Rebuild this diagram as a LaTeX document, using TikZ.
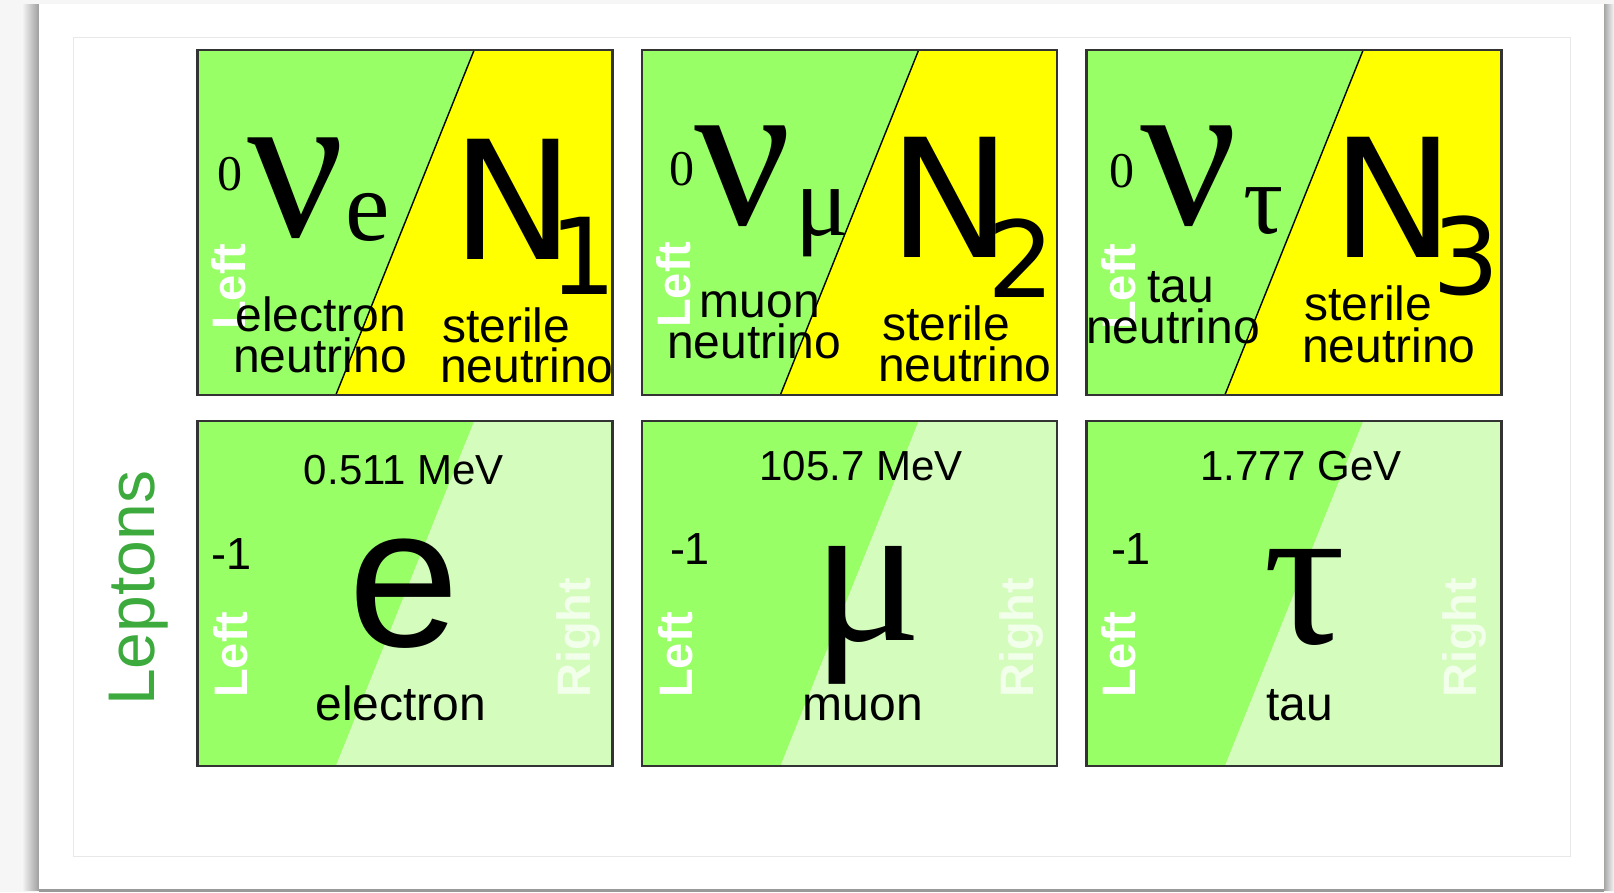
\documentclass[tikz,border=0pt]{standalone}
\usepackage{fontspec}
\setmainfont{Liberation Sans}
\newfontfamily\greekfont{Liberation Serif}
\newfontfamily\capsfont{DejaVu Sans}
\usetikzlibrary{positioning,calc}
\definecolor{leftgreen}{HTML}{99FF66}
\definecolor{steryellow}{HTML}{FFFF00}
\definecolor{rightgreen}{HTML}{D4FCBC}
\definecolor{rimgray}{HTML}{333333}
\definecolor{leptgreen}{HTML}{3DAA3D}
\definecolor{pagegray}{HTML}{F6F6F6}
\definecolor{rulegray}{HTML}{E8E8E8}
\definecolor{faintwhite}{HTML}{F2FFEA}
\newcommand{\fs}[1]{\fontsize{#1}{#1}\selectfont}

\begin{document}
\begin{tikzpicture}[x=1pt, y=-1pt,
  cell/.style     = {fill=leftgreen, minimum width=415pt, minimum height=345pt,
                     inner sep=0pt, outer sep=0pt},
  rim/.style      = {draw=rimgray, line width=2.4pt},
  split/.style    = {draw=black, line width=1.4pt},
  word/.style     = {anchor=base, inner sep=0pt, font=\fs{48}},
  hand/.style     = {rotate=90, anchor=base west, inner sep=0pt, text=white,
                     font=\bfseries\fs{47}},
  mass/.style     = {anchor=base, inner sep=0pt, font=\fs{42}},
  charge/.style   = {anchor=base, inner sep=0pt, font=\fs{45}},
  zero/.style     = {anchor=base, inner sep=0pt, font=\greekfont\fs{50}},
  greek/.style    = {anchor=base, inner sep=0pt, font=\greekfont\fs{215}},
  flav/.style     = {anchor=base, inner sep=0pt, font=\greekfont\fs{100}},
  heavy/.style    = {anchor=base, inner sep=0pt, font=\capsfont\fs{165}},
  heavyidx/.style = {anchor=base, inner sep=0pt, font=\capsfont\fs{106}},
  big/.style      = {anchor=base, inner sep=0pt, font=\fs{200}},
]
\useasboundingbox (0,0) rectangle (1614,892);

% --- the card ----------------------------------------------------------------------------------
\fill[pagegray] (0,0) rectangle (1614,892);
\shade[left color=pagegray, right color=black!38] (22,4) rectangle (39,890);
\shade[left color=black!35, right color=pagegray] (1604,4) rectangle (1614,890);
\fill[white] (39,4) rectangle (1604,889);
\fill[black!40] (39,889) rectangle (1604,892);
\draw[rulegray, line width=1pt] (73,37) rectangle (1570,856);

% --- six cells, two rows ------------------------------------------------------------------------
\node[cell] (nue) at (405,222.5) {};
\node[cell, right=29.5pt of nue] (numu) {};
\node[cell, right=29.5pt of numu] (nutau) {};
\node[cell, below=26pt of nue] (elec) {};
\node[cell, right=29.5pt of elec] (muon) {};
\node[cell, right=29.5pt of muon] (tau) {};

% top row: yellow sterile half, split by a slanted line
\fill[steryellow] ($(nue.north west)!2/3!(nue.north east)$) -- (nue.north east)
  -- (nue.south east) -- ($(nue.south west)!1/3!(nue.south east)$) -- cycle;
\fill[steryellow] ($(numu.north west)!2/3!(numu.north east)$) -- (numu.north east)
  -- (numu.south east) -- ($(numu.south west)!1/3!(numu.south east)$) -- cycle;
\fill[steryellow] ($(nutau.north west)!2/3!(nutau.north east)$) -- (nutau.north east)
  -- (nutau.south east) -- ($(nutau.south west)!1/3!(nutau.south east)$) -- cycle;
\draw[split] ($(nue.north west)!2/3!(nue.north east)$) -- ($(nue.south west)!1/3!(nue.south east)$);
\draw[split] ($(numu.north west)!2/3!(numu.north east)$) -- ($(numu.south west)!1/3!(numu.south east)$);
\draw[split] ($(nutau.north west)!2/3!(nutau.north east)$) -- ($(nutau.south west)!1/3!(nutau.south east)$);

% bottom row: pale right-handed half
\fill[rightgreen] ($(elec.north west)!2/3!(elec.north east)$) -- (elec.north east)
  -- (elec.south east) -- ($(elec.south west)!1/3!(elec.south east)$) -- cycle;
\fill[rightgreen] ($(muon.north west)!2/3!(muon.north east)$) -- (muon.north east)
  -- (muon.south east) -- ($(muon.south west)!1/3!(muon.south east)$) -- cycle;
\fill[rightgreen] ($(tau.north west)!2/3!(tau.north east)$) -- (tau.north east)
  -- (tau.south east) -- ($(tau.south west)!1/3!(tau.south east)$) -- cycle;

\draw[rim] (nue.north west) rectangle (nue.south east);
\draw[rim] (numu.north west) rectangle (numu.south east);
\draw[rim] (nutau.north west) rectangle (nutau.south east);
\draw[rim] (elec.north west) rectangle (elec.south east);
\draw[rim] (muon.north west) rectangle (muon.south east);
\draw[rim] (tau.north west) rectangle (tau.south east);

% --- neutrinos ----------------------------------------------------------------------------------
\node[hand] (nue-hand) at (245,330) {Left};
\node[zero] (nue-q) at (230,190) {0};
\node[greek] (nue-sym) at (296,236) {ν};
\node[flav] (nue-flav) at (368,240) {e};
\node[word] (nue-w1) at (321,331) {electron};
\node[word] (nue-w2) at (320,372) {neutrino};
\node[heavy] (N1) at (513,259) {N};
\node[heavyidx] (N1-idx) at (583,294) {1};
\node[word, anchor=base west] (N1-w1) at (442,342) {sterile};
\node[word, anchor=base west] (N1-w2) at (440,382) {neutrino};

\node[hand] (numu-hand) at (690,328) {Left};
\node[zero] (numu-q) at (682,185) {0};
\node[greek] (numu-sym) at (743,224) {ν};
\node[flav] (numu-flav) at (822,235) {μ};
\node[word] (numu-w1) at (760,317) {muon};
\node[word] (numu-w2) at (754,358) {neutrino};
\node[heavy] (N2) at (950,257) {N};
\node[heavyidx] (N2-idx) at (1021,297) {2};
\node[word, anchor=base west] (N2-w1) at (882,340) {sterile};
\node[word, anchor=base west] (N2-w2) at (878,381) {neutrino};

\node[hand] (nutau-hand) at (1135,330) {Left};
\node[zero] (nutau-q) at (1122,187) {0};
\node[greek] (nutau-sym) at (1189,224) {ν};
\node[flav] (nutau-flav) at (1264,233) {τ};
\node[word] (nutau-w1) at (1181,302) {tau};
\node[word] (nutau-w2) at (1173,343) {neutrino};
\node[heavy] (N3) at (1393,257) {N};
\node[heavyidx] (N3-idx) at (1466,294) {3};
\node[word, anchor=base west] (N3-w1) at (1304,320) {sterile};
\node[word, anchor=base west] (N3-w2) at (1302,362) {neutrino};

% --- charged leptons ----------------------------------------------------------------------------
\node[hand] (elec-left) at (247,698) {Left};
\node[hand, text=faintwhite] (elec-right) at (590,698) {Right};
\node[mass] (elec-mass) at (404,484) {0.511 MeV};
\node[charge] (elec-q) at (232,569) {-1};
\node[big] (elec-sym) at (404,646) {e};
\node[word] (elec-name) at (401,720) {electron};

\node[hand] (muon-left) at (692,698) {Left};
\node[hand, text=faintwhite] (muon-right) at (1033,698) {Right};
\node[mass] (muon-mass) at (861,480) {105.7 MeV};
\node[charge] (muon-q) at (690,564) {-1};
\node[greek, font=\greekfont\fs{205}] (muon-sym) at (867,640) {μ};
\node[word] (muon-name) at (863,720) {muon};

\node[hand] (tau-left) at (1135,698) {Left};
\node[hand, text=faintwhite] (tau-right) at (1476,698) {Right};
\node[mass] (tau-mass) at (1301,480) {1.777 GeV};
\node[charge] (tau-q) at (1131,564) {-1};
\node[greek, font=\greekfont\fs{205}] (tau-sym) at (1305,643) {τ};
\node[word] (tau-name) at (1300,720) {tau};

% --- row label ----------------------------------------------------------------------------------
\node[rotate=90, anchor=base west, inner sep=0pt, text=leptgreen, font=\fs{66}]
  (leptons) at (154,706) {Leptons};

\end{tikzpicture}
\end{document}
